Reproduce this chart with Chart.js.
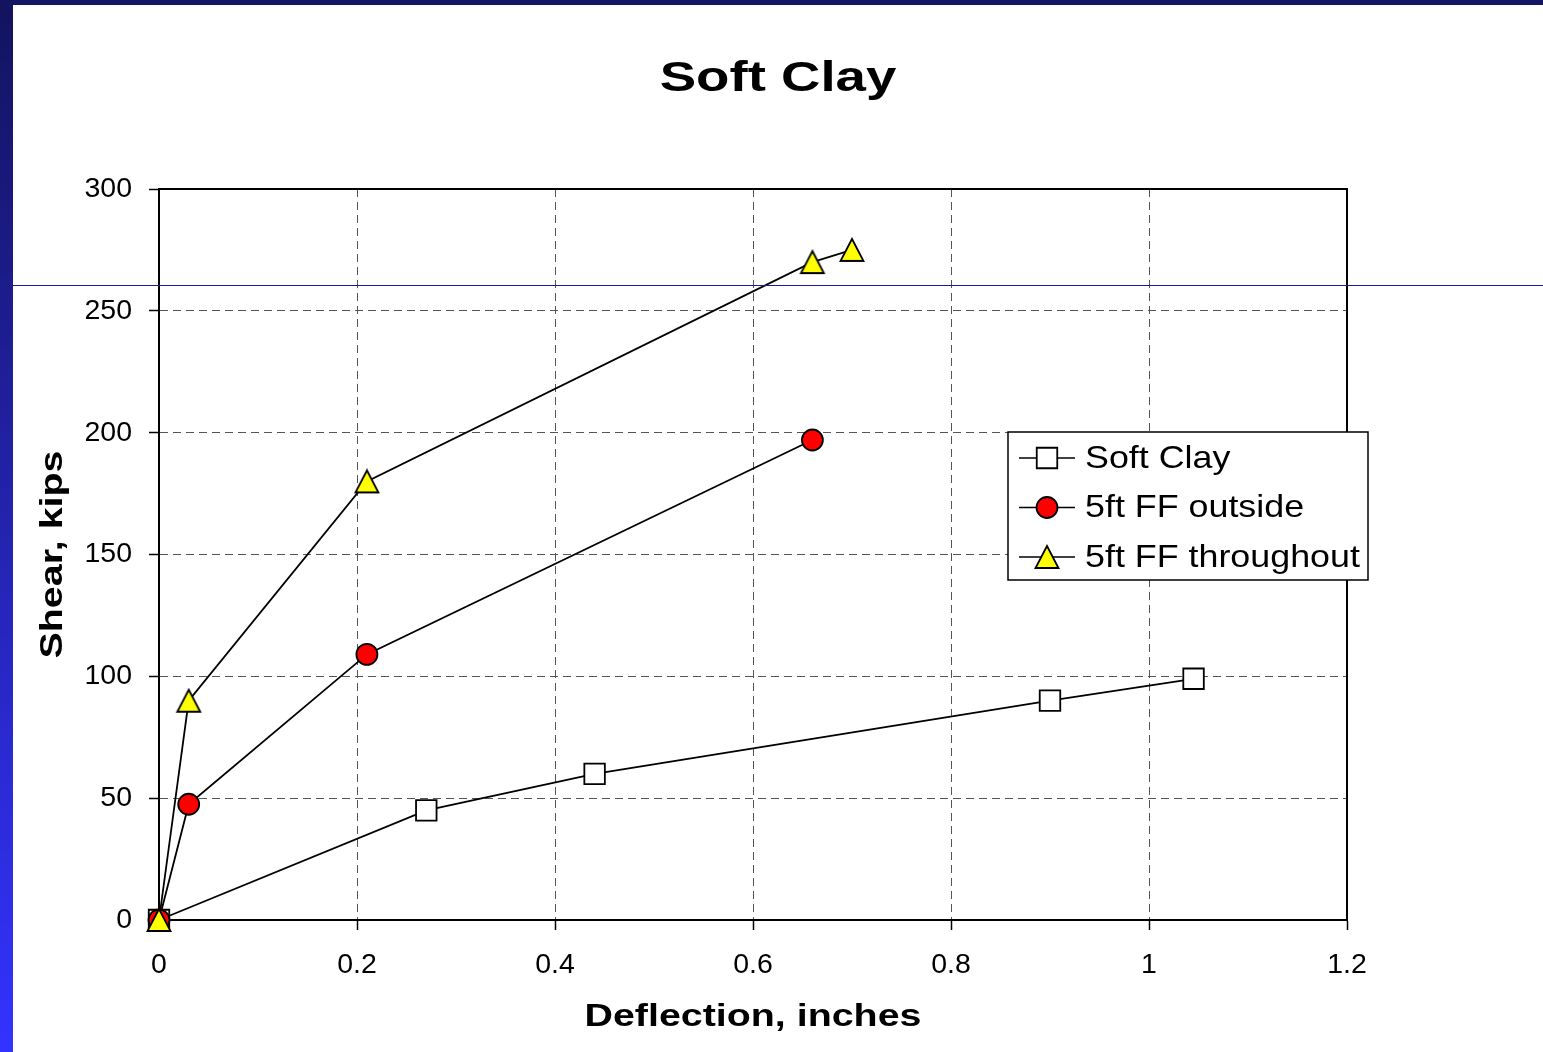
<!DOCTYPE html>
<html>
<head>
<meta charset="utf-8">
<title>Soft Clay</title>
<script src="https://cdn.jsdelivr.net/npm/chart.js@4.4.1/dist/chart.umd.min.js"></script>
<style>
  html, body { margin: 0; padding: 0; background: #fff; overflow: hidden; }
  #wrap { position: relative; width: 1543px; height: 1052px; }
  #graf { position: absolute; left: 0; top: 0; }
  .topbar { position: absolute; left: 0; top: 0; width: 1543px; height: 5px; background: #141464; z-index: 2; }
  .sidebar { position: absolute; left: 0; top: 0; width: 13px; height: 1052px; background: linear-gradient(#13135f, #3333ff); z-index: 2; }
  .rule { position: absolute; left: 13px; top: 285px; width: 1530px; height: 1px; background: #1c1c8c; z-index: 2; }
</style>
</head>
<body>
<div id="wrap">
  <canvas id="graf" width="1543" height="1052"></canvas>
  <div class="topbar"></div>
  <div class="sidebar"></div>
  <div class="rule"></div>
</div>
<script>
// deflection (inches) / shear (kips) for each case
const seriesNames = ["Soft Clay", "5ft FF outside", "5ft FF throughout"]
const softX = [0, 0.27, 0.44, 0.90, 1.045]
const softY = [0, 45, 60, 90, 99]
const outsideX = [0, 0.03, 0.21, 0.66]
const outsideY = [0, 47.5, 109, 197]
const throughX = [0, 0.03, 0.21, 0.66, 0.70]
const throughY = [0, 90, 180, 270, 275]
const xTicks = [0, 0.2, 0.4, 0.6, 0.8, 1, 1.2]
const yTicks = [0, 50, 100, 150, 200, 250, 300]

const FONT = "'Liberation Sans', Arial, Helvetica, sans-serif"
const WIDE = 1.27   // the bold headings are set wide
const LEGEND_WIDE = 1.12

const canvas = document.getElementById('graf')
const ctx = canvas.getContext('2d')

// stretch bold text sideways (measure too, so the layout knows)
const fillText0 = ctx.fillText.bind(ctx)
const measure0 = ctx.measureText.bind(ctx)
ctx.fillText = function(s, x, y, maxW){
  if(!/bold/.test(ctx.font)){
    if(maxW === undefined) return fillText0(s, x, y)
    return fillText0(s, x, y, maxW)
  }
  ctx.save()
  ctx.translate(x, y)
  ctx.scale(WIDE, 1)
  if(maxW === undefined) fillText0(s, 0, 0)
  else fillText0(s, 0, 0, maxW / WIDE)
  ctx.restore()
}
ctx.measureText = function(s){
  const m = measure0(s)
  if(!/bold/.test(ctx.font)) return m
  return {
    width: m.width * WIDE,
    actualBoundingBoxAscent: m.actualBoundingBoxAscent,
    actualBoundingBoxDescent: m.actualBoundingBoxDescent,
    actualBoundingBoxLeft: m.actualBoundingBoxLeft * WIDE,
    actualBoundingBoxRight: m.actualBoundingBoxRight * WIDE
  }
}

// yellow triangle marker, centred on its box rather than its centroid
function makeTriangle(){
  const t = document.createElement('canvas')
  t.width = 28
  t.height = 26
  const c = t.getContext('2d')
  c.beginPath()
  c.moveTo(14, 2)
  c.lineTo(25.5, 24)
  c.lineTo(2.5, 24)
  c.closePath()
  c.fillStyle = '#ffff00'
  c.fill()
  c.lineWidth = 1.8
  c.lineJoin = 'miter'
  c.strokeStyle = '#000'
  c.stroke()
  return t
}
const triangleMark = makeTriangle()

function toPoints(xs, ys){
  let pts = []
  for(let i=0;i<xs.length;i++){
    pts.push({x: xs[i], y: ys[i]})
  }
  return pts
}

// box round the plot area, under the markers
const framePlugin = {
  id: 'frame',
  beforeDatasetsDraw(chart){
    const a = chart.chartArea
    const c = chart.ctx
    c.save()
    c.strokeStyle = '#000'
    c.lineWidth = 2
    c.strokeRect(a.left, a.top, a.right - a.left, a.bottom - a.top)
    c.restore()
  }
}

// boxed legend sitting over the right edge of the plot
const legendPlugin = {
  id: 'boxLegend',
  afterDraw(chart){
    const a = chart.chartArea
    const c = chart.ctx
    const x0 = a.right - 339
    const y0 = a.top + 243
    c.save()
    c.fillStyle = '#fff'
    c.fillRect(x0, y0, 360, 148)
    c.strokeStyle = '#000'
    c.lineWidth = 1.5
    c.strokeRect(x0, y0, 360, 148)
    chart.data.datasets.forEach((ds, i) => {
      const cy = y0 + 26 + i * 49.5
      c.strokeStyle = '#000'
      c.lineWidth = 1.6
      c.beginPath()
      c.moveTo(x0 + 11, cy)
      c.lineTo(x0 + 67, cy)
      c.stroke()
      c.fillStyle = ds.pointBackgroundColor
      c.strokeStyle = '#000'
      c.lineWidth = ds.pointBorderWidth
      Chart.helpers.drawPoint(c, {pointStyle: ds.pointStyle, radius: ds.pointRadius, borderWidth: ds.pointBorderWidth, rotation: 0}, x0 + 39, cy)
      c.save()
      c.translate(x0 + 77, cy)
      c.scale(LEGEND_WIDE, 1)
      c.fillStyle = '#000'
      c.font = "32px " + FONT
      c.textBaseline = 'middle'
      c.textAlign = 'left'
      fillText0(ds.label, 0, 1)
      c.restore()
    })
    c.restore()
  }
}

new Chart(canvas, {
  type: 'scatter',
  data: {
    datasets: [
      {
        label: seriesNames[0],
        data: toPoints(softX, softY),
        showLine: true,
        borderColor: '#000',
        borderWidth: 1.8,
        pointStyle: 'rect',
        pointRadius: 14.5,
        pointBackgroundColor: '#fff',
        pointBorderColor: '#000',
        pointBorderWidth: 1.8,
        clip: false,
        order: 2
      },
      {
        label: seriesNames[1],
        data: toPoints(outsideX, outsideY),
        showLine: true,
        borderColor: '#000',
        borderWidth: 1.8,
        pointStyle: 'circle',
        pointRadius: 10.5,
        pointBackgroundColor: '#ff0000',
        pointBorderColor: '#000',
        pointBorderWidth: 1.8,
        clip: false,
        order: 1
      },
      {
        label: seriesNames[2],
        data: toPoints(throughX, throughY),
        showLine: true,
        borderColor: '#000',
        borderWidth: 1.8,
        pointStyle: triangleMark,
        pointRadius: 13,
        pointBackgroundColor: '#ffff00',
        pointBorderColor: '#000',
        pointBorderWidth: 1.8,
        clip: false,
        order: 0
      }
    ]
  },
  options: {
    responsive: false,
    animation: false,
    devicePixelRatio: 1,
    layout: { padding: { left: 13, right: 0, top: 5, bottom: 0 } },
    plugins: {
      legend: { display: false },
      tooltip: { enabled: false },
      title: {
        display: true,
        text: 'Soft Clay',
        color: '#000',
        font: { family: FONT, size: 43, weight: 'bold', lineHeight: 1.2 },
        padding: { top: 48, bottom: 84.4 }
      }
    },
    scales: {
      x: {
        type: 'linear',
        min: 0,
        max: 1.2,
        afterFit(scale){ scale.height = 132 },
        afterBuildTicks(scale){ scale.ticks = xTicks.map(v => ({value: v})) },
        ticks: {
          color: '#000',
          padding: 18,
          font: { family: FONT, size: 28.5 },
          callback: v => String(Number(v.toFixed(1)))
        },
        grid: { color: '#555', lineWidth: 1, tickLength: 10, tickColor: '#000', tickWidth: 1.5 },
        border: { display: true, color: '#000', width: 2, dash: [8, 5] },
        title: {
          display: true,
          text: 'Deflection, inches',
          color: '#000',
          font: { family: FONT, size: 31, weight: 'bold', lineHeight: 1.2 },
          padding: { top: 0, bottom: 16 }
        }
      },
      y: {
        type: 'linear',
        min: 0,
        max: 300,
        afterFit(scale){ scale.width = 146 },
        afterBuildTicks(scale){ scale.ticks = yTicks.map(v => ({value: v})) },
        ticks: {
          color: '#000',
          padding: 17,
          font: { family: FONT, size: 28.5 }
        },
        grid: { color: '#555', lineWidth: 1, tickLength: 10, tickColor: '#000', tickWidth: 1.5 },
        border: { display: true, color: '#000', width: 2, dash: [8, 5] },
        title: {
          display: true,
          text: 'Shear, kips',
          color: '#000',
          font: { family: FONT, size: 31, weight: 'bold', lineHeight: 1.2 },
          padding: { top: 22, bottom: 0 }
        }
      },
      // empty strip on the right so the plot ends where it should
      gap: {
        type: 'linear',
        position: 'right',
        display: true,
        afterFit(scale){ scale.width = 196 },
        grid: { display: false, drawTicks: false },
        border: { display: false },
        ticks: { display: false }
      }
    }
  },
  plugins: [framePlugin, legendPlugin]
})
</script>
</body>
</html>
